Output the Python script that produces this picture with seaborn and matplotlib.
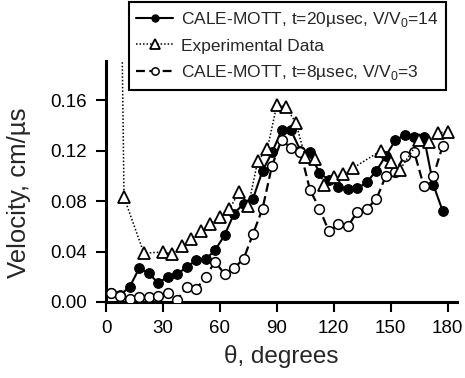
import matplotlib
matplotlib.use("Agg")
import matplotlib.pyplot as plt
import seaborn as sns
import numpy as np

# ---- data ----
theta_sim = [2.5, 7.5, 12.5, 17.5, 22.5, 27.5, 32.5, 37.5, 42.5, 47.5, 52.5, 57.5,
             62.5, 67.5, 72.5, 77.5, 82.5, 87.5, 92.5, 97.5, 102.5, 107.5, 112.5,
             117.5, 122.5, 127.5, 132.5, 137.5, 142.5, 147.5, 152.5, 157.5, 162.5,
             167.5, 172.5, 177.5]
vel_t20 = [0.007, 0.0056, 0.012, 0.0267, 0.0228, 0.015, 0.020, 0.0222, 0.0275, 0.0333,
           0.034, 0.041, 0.053, 0.070, 0.078, 0.082, 0.104, 0.1185, 0.136, 0.136,
           0.120, 0.1185, 0.102, 0.097, 0.0915, 0.0894, 0.090, 0.095, 0.104, 0.116,
           0.128, 0.1325, 0.1307, 0.131, 0.093, 0.072]
vel_t8 = [0.0074, 0.0045, 0.0027, 0.0042, 0.0042, 0.005, 0.0068, 0.0018, 0.0116, 0.010,
          0.020, 0.032, 0.022, 0.027, 0.034, 0.054, 0.074, 0.108, 0.1286, 0.122,
          0.119, 0.089, 0.074, 0.056, 0.0616, 0.060, 0.0717, 0.074, 0.0815, 0.100,
          0.1034, 0.116, 0.1185, 0.092, 0.0995, 0.124]
theta_exp = [8.0, 9.5, 20, 30, 35, 40, 45, 50, 55, 60, 65, 70, 75, 80, 85, 90, 95, 100,
             105, 110, 115, 120, 125, 130, 145, 150, 155, 165, 170, 175, 180]
vel_exp = [0.26, 0.083, 0.0386, 0.0397, 0.038, 0.0444, 0.0497, 0.056, 0.062, 0.0677,
           0.0736, 0.0868, 0.076, 0.112, 0.121, 0.156, 0.1545, 0.142, 0.1153, 0.113,
           0.093, 0.099, 0.1016, 0.106, 0.120, 0.111, 0.105, 0.128, 0.1265, 0.134, 0.135]

labels = ["CALE-MOTT, t=20\u00b5sec, V/V$_\\mathregular{0}$=14",
          "Experimental Data",
          "CALE-MOTT, t=8\u00b5sec, V/V$_\\mathregular{0}$=3"]
xticks = [0, 30, 60, 90, 120, 150, 180]
yticks = [0.00, 0.04, 0.08, 0.12, 0.16]

sns.set_style("ticks")
plt.rcParams['font.family'] = ['Liberation Sans', 'DejaVu Sans']
plt.rcParams['mathtext.fontset'] = 'custom'
plt.rcParams['mathtext.rm'] = 'Liberation Sans'

fig = plt.figure(figsize=(4.65, 3.78), dpi=100)
ax = fig.add_axes([106/465, 1-302/378, (457-106)/465, (302-61)/378])

sns.lineplot(x=theta_sim, y=vel_t20, ax=ax, color='black', lw=1.5, marker='o',
             markersize=7, markerfacecolor='black', markeredgecolor='black',
             label=labels[0], zorder=2)
sns.lineplot(x=theta_exp, y=vel_exp, ax=ax, color='black', lw=1.1,
             linestyle=(0, (1, 1.3)), marker='^', markersize=9,
             markerfacecolor='white', markeredgecolor='black', markeredgewidth=1.3,
             label=labels[1], zorder=4)
sns.lineplot(x=theta_sim, y=vel_t8, ax=ax, color='black', lw=1.6,
             linestyle=(0, (4, 2)), marker='o', markersize=7,
             markerfacecolor='white', markeredgecolor='black', markeredgewidth=1.1,
             label=labels[2], zorder=3)

ax.set_xlim(0, 185)
ax.set_ylim(0, 0.191)
ax.set_xticks(xticks)
ax.set_yticks(yticks)
ax.set_yticklabels([f"{v:.2f}" for v in yticks])
ax.tick_params(axis='both', labelsize=13.5, length=7, width=1.5, direction='out',
               color='black', labelcolor='black')
ax.tick_params(axis='y', pad=7)
ax.tick_params(axis='x', pad=6)
for s in ['left', 'bottom']:
    ax.spines[s].set_linewidth(2.2)
    ax.spines[s].set_color('black')
sns.despine(ax=ax)

ax.set_xlabel("\u03b8, degrees", fontsize=17.5, labelpad=6)
ax.set_ylabel("Velocity, cm/\u00b5s", fontsize=18.5)
ax.yaxis.set_label_coords(-0.213, 0.455)

leg = ax.legend(loc='upper right', bbox_to_anchor=(446/465, 1-2/378),
                bbox_transform=fig.transFigure, fontsize=12.5, frameon=True,
                fancybox=False, framealpha=1, edgecolor='black',
                handlelength=2.1, handletextpad=0.45, labelspacing=0.55,
                borderpad=0.45, borderaxespad=0, markerscale=0.75)
leg.get_frame().set_linewidth(1.5)
leg.set_zorder(10)

fig.savefig("out.png", dpi=100)
